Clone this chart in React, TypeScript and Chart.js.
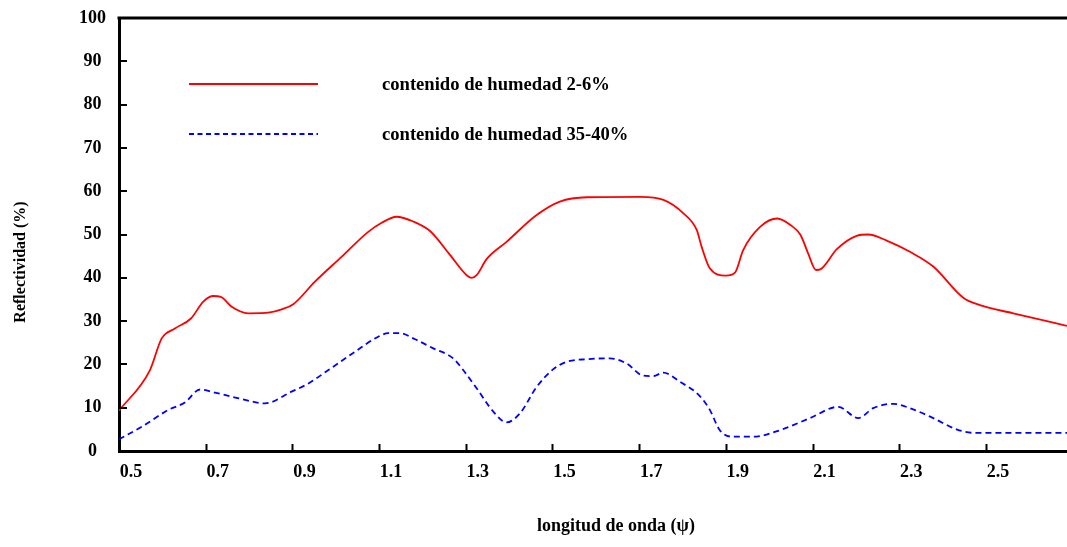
import React, { useEffect, useRef } from "react";
import { Chart, registerables } from "chart.js";

Chart.register(...registerables);

const seriesLabels = ["contenido de humedad 2-6%", "contenido de humedad 35-40%"];
const seriesColors = ["#ff0000", "#0000ff"];

const redX = [0.5, 0.5715, 0.5985, 0.629, 0.666, 0.6945, 0.7175, 0.735, 0.76, 0.798, 0.848, 0.875, 0.902, 0.952, 1.014, 1.075, 1.106, 1.14, 1.179, 1.2175, 1.2635, 1.302, 1.3135, 1.325, 1.348, 1.394, 1.4635, 1.517, 1.579, 1.702, 1.756, 1.802, 1.833, 1.844, 1.863, 1.9, 1.921, 1.94, 1.9795, 2.0186, 2.049, 2.0723, 2.09, 2.108, 2.119, 2.156, 2.2015, 2.2285, 2.271, 2.3247, 2.3785, 2.4477, 2.486, 2.563, 2.687];
const redY = [9.3, 18.7, 26.0, 28.3, 30.6, 34.5, 35.8, 35.6, 33.3, 31.8, 32.0, 32.7, 33.9, 39.1, 44.9, 50.6, 52.7, 54.1, 53.0, 50.8, 45.3, 40.6, 40.0, 40.6, 44.3, 48.3, 54.5, 57.6, 58.6, 58.7, 58.0, 54.9, 51.0, 47.2, 42.2, 40.5, 41.2, 46.4, 51.8, 53.7, 52.2, 49.9, 45.6, 41.8, 42.0, 46.6, 49.7, 50.0, 48.6, 46.0, 42.6, 35.4, 33.7, 31.8, 28.9];

const blueX = [0.5, 0.5523, 0.614, 0.652, 0.687, 0.7215, 0.783, 0.8368, 0.898, 0.937, 0.983, 1.044, 1.098, 1.121, 1.148, 1.183, 1.225, 1.271, 1.294, 1.325, 1.3635, 1.394, 1.425, 1.4635, 1.502, 1.533, 1.579, 1.6325, 1.671, 1.7095, 1.7325, 1.7555, 1.794, 1.84, 1.863, 1.886, 1.917, 1.963, 2.0248, 2.094, 2.1593, 2.2055, 2.24, 2.286, 2.332, 2.3785, 2.432, 2.471, 2.687];
const blueY = [2.7, 5.6, 9.5, 11.2, 14.2, 13.5, 12.0, 11.0, 13.7, 15.6, 18.7, 22.9, 26.4, 27.2, 27.2, 25.8, 23.7, 21.4, 18.7, 14.5, 9.1, 6.6, 8.7, 14.8, 18.9, 20.6, 21.2, 21.4, 20.2, 17.4, 17.3, 18.1, 16.0, 12.7, 9.5, 4.8, 3.3, 3.3, 4.8, 7.6, 10.2, 7.6, 9.9, 10.9, 9.6, 7.6, 5.0, 4.2, 4.2];

const xTickValues = [0.5, 0.7, 0.9, 1.1, 1.3, 1.5, 1.7, 1.9, 2.1, 2.3, 2.5];
const xTickLabels = ["0.5", "0.7", "0.9", "1.1", "1.3", "1.5", "1.7", "1.9", "2.1", "2.3", "2.5"];
const yTickValues = [0, 10, 20, 30, 40, 50, 60, 70, 80, 90, 100];

const xTitle = "longitud de onda (ψ)";
const yTitle = "Reflectividad (%)";

const FONT = "'Liberation Serif', 'DejaVu Serif', serif";

const decorPlugin = {
  id: "decor",
  afterDraw(chart: any) {
    const ctx = chart.ctx;
    const area = chart.chartArea;
    const xs = chart.scales.x;
    const ys = chart.scales.y;
    ctx.save();
    // top frame line
    ctx.strokeStyle = "#000";
    ctx.lineWidth = 3;
    ctx.beginPath();
    ctx.moveTo(area.left - 1.5, area.top);
    ctx.lineTo(area.right, area.top);
    ctx.stroke();
    // inside ticks
    ctx.lineWidth = 2;
    xTickValues.forEach((v) => {
      const px = Math.round(xs.getPixelForValue(v)) + 0.5;
      ctx.beginPath();
      ctx.moveTo(px, area.bottom);
      ctx.lineTo(px, area.bottom - 7);
      ctx.stroke();
    });
    yTickValues.forEach((v) => {
      const py = Math.round(ys.getPixelForValue(v));
      ctx.beginPath();
      ctx.moveTo(area.left, py);
      ctx.lineTo(area.left + 8, py);
      ctx.stroke();
    });
    // legend
    const ds = chart.data.datasets;
    const legendRows = [84, 134];
    ds.forEach((d: any, i: number) => {
      const y = legendRows[i];
      ctx.strokeStyle = d.borderColor;
      ctx.lineWidth = 2;
      ctx.setLineDash(i === 1 ? [5, 3.5] : []);
      ctx.beginPath();
      ctx.moveTo(189, y);
      ctx.lineTo(318, y);
      ctx.stroke();
      ctx.setLineDash([]);
      ctx.fillStyle = "#000";
      ctx.font = "bold 18.6px " + FONT;
      ctx.textAlign = "left";
      ctx.textBaseline = "middle";
      ctx.fillText(d.label, 382, y + 1);
    });
    // axis titles
    ctx.fillStyle = "#000";
    ctx.font = "bold 18px " + FONT;
    ctx.textAlign = "center";
    ctx.textBaseline = "middle";
    ctx.fillText(xTitle, 616, 526);
    ctx.save();
    ctx.translate(21, 262);
    ctx.rotate(-Math.PI / 2);
    ctx.font = "bold 16px " + FONT;
    ctx.fillText(yTitle, 0, 0);
    ctx.restore();
    ctx.restore();
  },
};

export default function App() {
  const ref = useRef<HTMLCanvasElement | null>(null);
  useEffect(() => {
    if (!ref.current) return;
    const chart = new Chart(ref.current, {
      type: "line",
      data: {
        datasets: [
          {
            label: seriesLabels[0],
            data: redX.map((x, i) => ({ x, y: redY[i] })),
            borderColor: seriesColors[0],
            borderWidth: 1.8,
            pointRadius: 0,
            fill: false,
            cubicInterpolationMode: "monotone",
          },
          {
            label: seriesLabels[1],
            data: blueX.map((x, i) => ({ x, y: blueY[i] })),
            borderColor: seriesColors[1],
            borderWidth: 1.8,
            borderDash: [6, 4],
            pointRadius: 0,
            fill: false,
            cubicInterpolationMode: "monotone",
          },
        ],
      },
      options: {
        responsive: false,
        animation: false,
        layout: { padding: { top: 18, right: 0, left: 0, bottom: 0 } },
        plugins: { legend: { display: false }, tooltip: { enabled: false } },
        scales: {
          x: {
            type: "linear",
            min: 0.5,
            max: 2.687,
            afterFit: (s: any) => {
              s.height = 96;
              s.paddingLeft = 0;
              s.paddingRight = 0;
            },
            afterBuildTicks: (s: any) => {
              s.ticks = xTickValues.map((v) => ({ value: v }));
            },
            grid: { display: false, drawTicks: false },
            border: { display: true, color: "#000", width: 3 },
            ticks: {
              callback: (_v: any, i: number) => xTickLabels[i],
              color: "#000",
              font: { family: FONT, size: 18, weight: "bold" },
              labelOffset: 12,
              padding: 11,
              maxRotation: 0,
              autoSkip: false,
            },
          },
          y: {
            min: 0,
            max: 100,
            afterFit: (s: any) => {
              s.width = 119;
              s.paddingTop = 0;
              s.paddingBottom = 0;
            },
            afterBuildTicks: (s: any) => {
              s.ticks = yTickValues.map((v) => ({ value: v }));
            },
            grid: { display: false, drawTicks: false },
            border: { display: true, color: "#000", width: 3 },
            ticks: {
              color: "#000",
              font: { family: FONT, size: 18, weight: "bold" },
              crossAlign: "center",
              padding: 13,
            },
          },
        },
      },
      plugins: [decorPlugin],
    } as any);
    return () => chart.destroy();
  }, []);
  return (
    <div style={{ position: "absolute", left: 0, top: 0, width: 1067, height: 547, background: "#fff" }}>
      <canvas ref={ref} width={1067} height={547} />
    </div>
  );
}
